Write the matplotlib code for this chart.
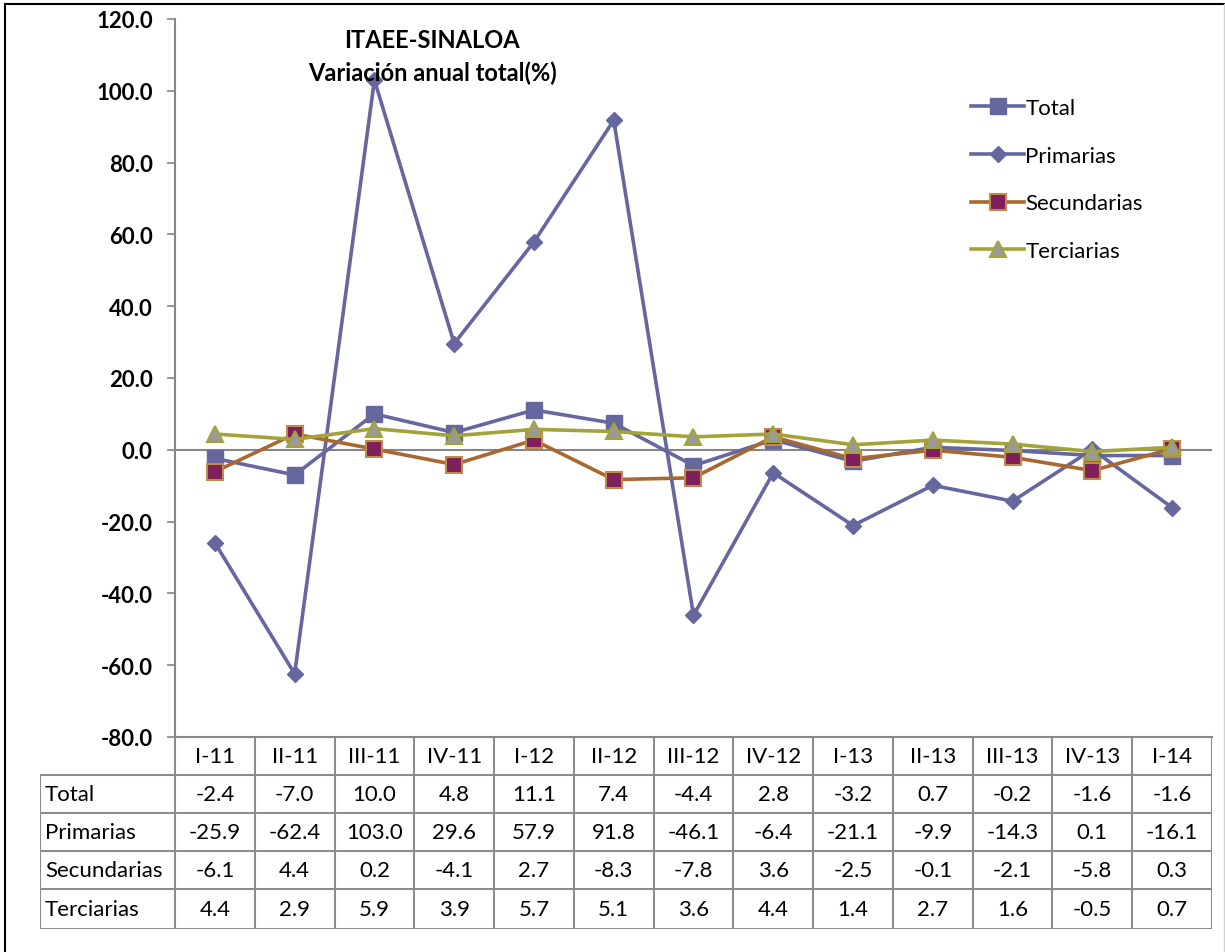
import matplotlib
matplotlib.use("Agg")
import matplotlib.pyplot as plt
from matplotlib.lines import Line2D

categories = ["I-11", "II-11", "III-11", "IV-11", "I-12", "II-12", "III-12",
              "IV-12", "I-13", "II-13", "III-13", "IV-13", "I-14"]
total = [-2.4, -7.0, 10.0, 4.8, 11.1, 7.4, -4.4, 2.8, -3.2, 0.7, -0.2, -1.6, -1.6]
primarias = [-25.9, -62.4, 103.0, 29.6, 57.9, 91.8, -46.1, -6.4, -21.1, -9.9, -14.3, 0.1, -16.1]
secundarias = [-6.1, 4.4, 0.2, -4.1, 2.7, -8.3, -7.8, 3.6, -2.5, -0.1, -2.1, -5.8, 0.3]
terciarias = [4.4, 2.9, 5.9, 3.9, 5.7, 5.1, 3.6, 4.4, 1.4, 2.7, 1.6, -0.5, 0.7]
series_names = ["Total", "Primarias", "Secundarias", "Terciarias"]
yticks = [-80, -60, -40, -20, 0, 20, 40, 60, 80, 100, 120]

plt.rcParams['font.family'] = ['Lato', 'DejaVu Sans']

W, H = 1225, 953
fig = plt.figure(figsize=(W / 100, H / 100), dpi=100)

def fx(px):
    return px / W

def fy(py):
    return 1 - py / H

# frame border
fig.add_artist(Line2D([fx(5), fx(5)], [fy(5), fy(953)], color='black', lw=1.5))
fig.add_artist(Line2D([fx(5), fx(1224)], [fy(5), fy(5)], color='black', lw=1.5))
fig.add_artist(Line2D([fx(1224), fx(1224)], [fy(5), fy(953)], color='#d0d0d0', lw=1))

x0, x1 = 175, 1212
ytop, ybot = 20, 738
ax = fig.add_axes([fx(x0), fy(ybot), fx(x1) - fx(x0), fy(ytop) - fy(ybot)])
n = len(categories)
xs = list(range(n))
ax.set_xlim(-0.5, n - 0.5)
ax.set_ylim(-80, 120)
ax.set_yticks(yticks)
ax.set_yticklabels([f"{v:.1f}" for v in yticks], fontsize=16, fontweight='bold')
ax.set_xticks([])
for s in ['top', 'right']:
    ax.spines[s].set_visible(False)
ax.spines['left'].set_color('#868686')
ax.spines['left'].set_linewidth(1.5)
ax.spines['bottom'].set_color('#868686')
ax.spines['bottom'].set_linewidth(1.5)
ax.tick_params(axis='y', direction='out', length=6, color='#868686', width=1.2, pad=10)
ax.axhline(0, color='#868686', lw=1.5, zorder=1)

blue = '#6767A0'
ax.plot(xs, total, color=blue, lw=2.6, marker='s', ms=11, mfc=blue, mec=blue, label='Total', zorder=3)
ax.plot(xs, primarias, color=blue, lw=2.6, marker='D', ms=8.5, mfc=blue, mec=blue, label='Primarias', zorder=3)
ax.plot(xs, secundarias, color='#A8682F', lw=2.6, marker='s', ms=11, mfc='#7F1F5C', mec='#C08A4A', mew=1.5,
        label='Secundarias', zorder=4)
ax.plot(xs, terciarias, color='#A3A33A', lw=2.6, marker='^', ms=12, mfc='#9A9A9A', mec='#A3A33A', mew=1.5,
        label='Terciarias', zorder=5)

fig.text(fx(432), fy(40), "ITAEE-SINALOA", ha='center', va='center', fontsize=17, fontweight='bold')
fig.text(fx(432), fy(73), "Variación anual total(%)", ha='center', va='center', fontsize=17, fontweight='bold')

leg = ax.legend(loc='upper left', bbox_to_anchor=(fx(962), fy(90)), bbox_transform=fig.transFigure,
                frameon=False, fontsize=16, handlelength=2.4, labelspacing=1.25, handletextpad=0.05,
                borderaxespad=0)

# data table
tab_left = 40
colw = (x1 - x0) / n
tax = fig.add_axes([fx(tab_left), fy(930), fx(x1) - fx(tab_left), fy(ybot) - fy(930)])
tax.set_xlim(tab_left, x1)
tax.set_ylim(930, ybot)
tax.axis('off')
rows_y = [738, 776, 814, 852, 890, 930]
gc = '#8C8C8C'
lw = 1.5
for i in range(n + 1):
    xv = x0 + i * colw
    tax.plot([xv, xv], [rows_y[0], rows_y[-1]], color=gc, lw=lw, solid_capstyle='butt')
tax.plot([tab_left, tab_left], [rows_y[1], rows_y[-1]], color=gc, lw=lw)
for j, yv in enumerate(rows_y):
    left = x0 if j == 0 else tab_left
    tax.plot([left, x1], [yv, yv], color=gc, lw=lw)
for i, c in enumerate(categories):
    tax.text(x0 + (i + 0.5) * colw, (rows_y[0] + rows_y[1]) / 2, c, ha='center', va='center', fontsize=16)
data_rows = [total, primarias, secundarias, terciarias]
for r, (name, vals) in enumerate(zip(series_names, data_rows)):
    yc = (rows_y[r + 1] + rows_y[r + 2]) / 2
    tax.text(tab_left + 5, yc, name, ha='left', va='center', fontsize=16)
    for i, v in enumerate(vals):
        tax.text(x0 + (i + 0.5) * colw, yc, f"{v:.1f}", ha='center', va='center', fontsize=16)

fig.savefig("out.png", dpi=100)
